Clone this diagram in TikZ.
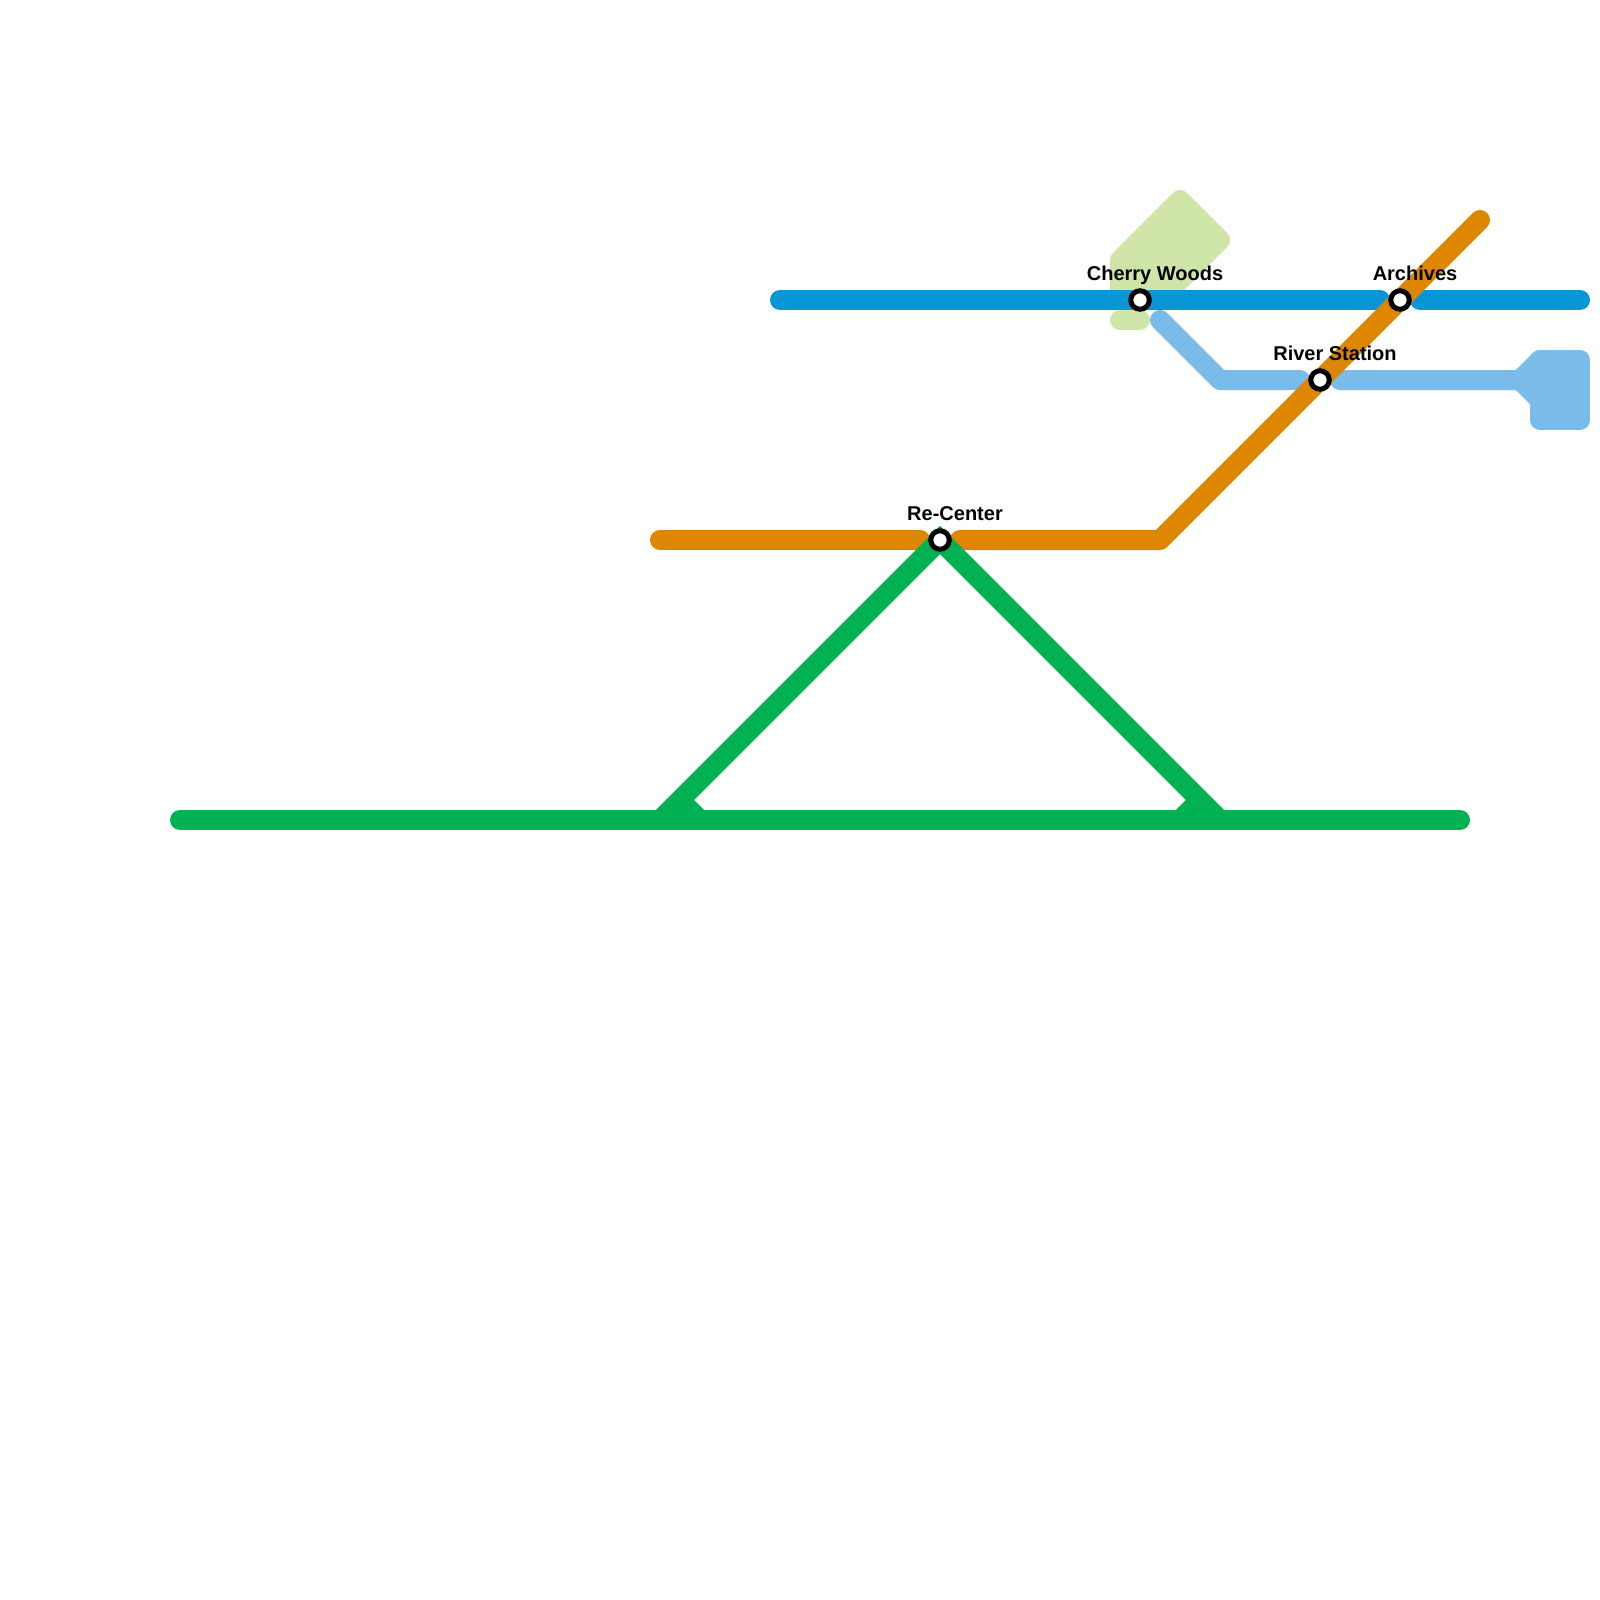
\documentclass[tikz,border=0pt]{standalone}
\usepackage{fontspec}
\setmainfont{Liberation Sans}
\definecolor{lnorange}{HTML}{DF8600}
\definecolor{lnblue}{HTML}{0896D7}
\definecolor{lnsky}{HTML}{7ABCE9}
\definecolor{lngreen}{HTML}{00B251}
\definecolor{lnpale}{HTML}{CFE4A7}
\tikzset{
  metro/.style={line width=20pt,line cap=round,line join=round},
  station/.style={circle,draw=black,fill=white,line width=5pt,minimum size=18.5pt,inner sep=0pt},
  stlabel/.style={font=\fontsize{20pt}{24pt}\selectfont\bfseries,text=black,inner sep=0pt,anchor=base}
}
\begin{document}
\begin{tikzpicture}[x=1pt,y=-1pt]
\useasboundingbox (0,0) rectangle (1600,1600);
\fill[white] (0,0) rectangle (1600,1600);
% stations positions
\coordinate (cw) at (1140,300);
\coordinate (ar) at (1400,300);
\coordinate (rs) at (1320,380);
\coordinate (rc) at (940,540);
% pale green
\coordinate (p1) at (1180,200);
\coordinate (p2) at (1220,240);
\coordinate (p3) at (1160,300);
\coordinate (p4) at (1120,300);
\coordinate (p5) at (1120,260);
\coordinate (p6) at (1120,320);
\coordinate (p7) at (1140,320);
\draw[metro,lnpale,fill=lnpale] (p1) -- (p2) -- (p3) -- (p4) -- (p5) -- cycle;
\draw[metro,lnpale] (p6) -- (p7);
% sky blue
\coordinate (s1) at (1160,320);
\coordinate (s2) at (1220,380);
\coordinate (s3) at (1300,380);
\coordinate (s4) at (1340,380);
\coordinate (s5) at (1520,380);
\coordinate (s6) at (1540,360);
\coordinate (s7) at (1580,360);
\coordinate (s8) at (1580,420);
\coordinate (s9) at (1540,420);
\coordinate (s10) at (1540,400);
\draw[metro,lnsky] (s1) -- (s2) -- (s3);
\draw[metro,lnsky] (s4) -- (s5) -- (s6);
\draw[metro,lnsky] (s5) -- (s10);
\draw[metro,lnsky,fill=lnsky] (s6) -- (s7) -- (s8) -- (s9) -- cycle;
% blue
\coordinate (b1) at (780,300);
\coordinate (b2) at (1380,300);
\coordinate (b3) at (1420,300);
\coordinate (b4) at (1580,300);
\draw[metro,lnblue] (b1) -- (b2);
\draw[metro,lnblue] (b3) -- (b4);
% orange
\coordinate (o1) at (660,540);
\coordinate (o2) at (920,540);
\coordinate (o3) at (960,540);
\coordinate (o4) at (1160,540);
\coordinate (o5) at (1480,220);
\draw[metro,lnorange] (o1) -- (o2);
\draw[metro,lnorange] (o3) -- (o4) -- (o5);
% green
\coordinate (g1) at (180,820);
\coordinate (g2) at (1460,820);
\coordinate (g3) at (660,820);
\coordinate (g4) at (680,800);
\coordinate (g5) at (700,820);
\coordinate (g6) at (1180,820);
\coordinate (g7) at (1200,800);
\coordinate (g8) at (1220,820);
\draw[metro,lngreen] (g1) -- (g2);
\draw[line width=20pt,line join=miter,lngreen] (g3) -- (g4) -- (rc) -- (g7) -- (g8);
\draw[line width=20pt,lngreen] (g4) -- (g5);
\draw[line width=20pt,lngreen] (g7) -- (g6);
% stations
\node[station] (ncw) at (cw) {};
\node[station] (nar) at (ar) {};
\node[station] (nrs) at (rs) {};
\node[station] (nrc) at (rc) {};
\node[stlabel] (lcw) at (1155,280) {Cherry Woods};
\node[stlabel] (lar) at (1415,280) {Archives};
\node[stlabel] (lrs) at (1335,360) {River Station};
\node[stlabel] (lrc) at (955,520) {Re-Center};
\end{tikzpicture}
\end{document}
